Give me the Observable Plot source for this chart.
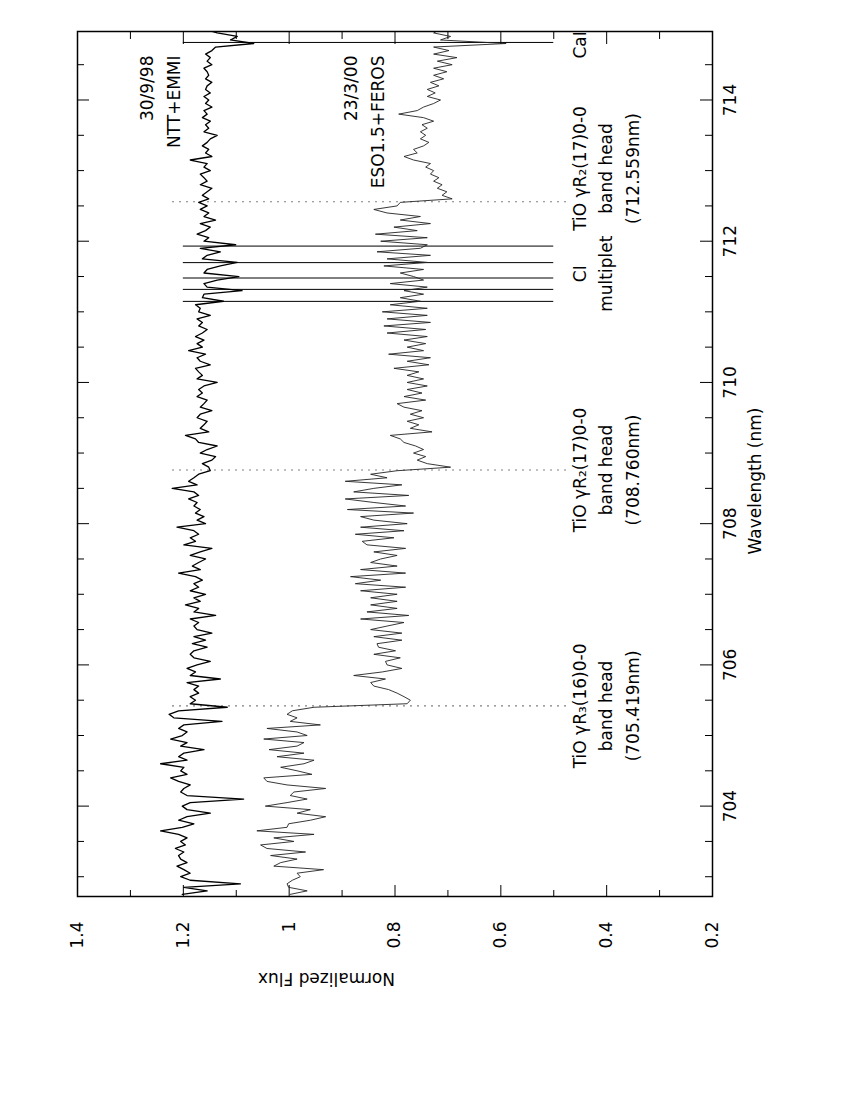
<!DOCTYPE html>
<html><head><meta charset="utf-8">
<script src="https://cdn.jsdelivr.net/npm/d3@7"></script>
<script src="https://cdn.jsdelivr.net/npm/@observablehq/plot@0.6"></script>
<style>
html,body{margin:0;padding:0;background:#fff;width:850px;height:1100px;overflow:hidden;}
#wrap{position:absolute;left:0;top:1100px;width:1100px;height:850px;transform-origin:0 0;transform:rotate(-90deg);}
#wrap svg{display:block;}
</style></head><body><div id="wrap"></div>
<script>
// Wavelength grid of the sampled spectra (nm)
const lambdaStart = 702.75;
const lambdaStep = 0.05;

// 30/9/98 NTT+EMMI spectrum (normalized flux)
const fluxNTT = [
1.202,1.155,1.199,1.092,1.187,1.205,1.187,1.199,1.212,1.193,
1.205,1.209,1.199,1.215,1.196,1.205,1.193,1.209,1.243,1.202,
1.180,1.209,1.193,1.149,1.193,1.202,1.187,1.086,1.193,1.205,
1.199,1.187,1.209,1.224,1.193,1.205,1.199,1.243,1.193,1.209,
1.199,1.161,1.205,1.193,1.224,1.202,1.193,1.209,1.199,1.127,
1.218,1.227,1.209,1.117,1.187,1.177,1.187,1.171,1.180,1.171,
1.193,1.130,1.187,1.177,1.193,1.174,1.149,1.180,1.187,1.180,
1.155,1.183,1.158,1.180,1.146,1.174,1.180,1.171,1.187,1.139,
1.180,1.171,1.196,1.168,1.180,1.158,1.187,1.171,1.180,1.164,
1.177,1.209,1.168,1.183,1.171,1.158,1.187,1.168,1.146,1.199,
1.177,1.187,1.171,1.180,1.212,1.158,1.174,1.161,1.177,1.168,
1.180,1.174,1.190,1.171,1.180,1.221,1.174,1.190,1.180,1.171,
1.149,1.152,1.164,1.146,1.139,1.168,1.155,1.136,1.171,1.177,
1.196,1.152,1.168,1.161,1.155,1.174,1.168,1.146,1.168,1.161,
1.155,1.174,1.164,1.171,1.161,1.136,1.174,1.164,1.171,1.177,
1.149,1.168,1.174,1.158,1.190,1.164,1.174,1.161,1.177,1.164,
1.155,1.171,1.164,1.174,1.149,1.171,1.168,1.177,1.124,1.164,
1.161,1.089,1.155,1.161,1.136,1.095,1.161,1.155,1.130,1.098,
1.164,1.155,1.130,1.168,1.101,1.161,1.152,1.174,1.158,1.149,
1.168,1.139,1.161,1.152,1.168,1.155,1.171,1.152,1.164,1.155,
1.146,1.168,1.155,1.161,1.168,1.149,1.161,1.155,1.187,1.146,
1.158,1.152,1.164,1.155,1.149,1.136,1.161,1.152,1.158,1.149,
1.164,1.155,1.161,1.146,1.158,1.152,1.161,1.149,1.158,1.155,
1.146,1.158,1.152,1.155,1.161,1.146,1.155,1.149,1.158,1.146,
1.139,1.067,1.111,1.098,1.136,1.158
];

// 23/3/00 ESO1.5+FEROS spectrum (normalized flux)
const fluxFEROS = [
0.998,0.966,1.001,1.004,0.994,0.979,0.985,0.935,1.029,1.016,
0.985,1.035,0.969,1.042,1.054,0.991,1.029,0.953,1.061,1.004,
1.001,0.960,0.931,0.985,0.960,1.045,1.004,0.966,0.998,0.991,
0.931,1.004,1.042,1.048,0.957,0.985,1.016,0.972,0.953,1.023,
0.972,1.038,0.985,0.972,1.048,0.966,0.985,1.042,0.941,0.998,
0.985,1.004,0.994,0.953,0.777,0.771,0.783,0.796,0.812,0.840,
0.846,0.818,0.878,0.824,0.787,0.815,0.818,0.790,0.840,0.799,
0.831,0.834,0.787,0.840,0.787,0.846,0.815,0.783,0.865,0.774,
0.853,0.796,0.846,0.796,0.846,0.796,0.865,0.780,0.875,0.827,
0.884,0.780,0.865,0.796,0.846,0.827,0.796,0.840,0.780,0.853,
0.862,0.802,0.875,0.783,0.865,0.777,0.840,0.865,0.765,0.890,
0.780,0.840,0.894,0.774,0.878,0.840,0.787,0.894,0.815,0.846,
0.796,0.695,0.739,0.758,0.742,0.765,0.746,0.761,0.783,0.790,
0.809,0.730,0.771,0.755,0.777,0.746,0.771,0.749,0.783,0.796,
0.742,0.783,0.749,0.777,0.739,0.777,0.746,0.777,0.755,0.802,
0.736,0.777,0.733,0.812,0.746,0.777,0.742,0.783,0.739,0.815,
0.742,0.821,0.733,0.815,0.739,0.824,0.739,0.809,0.752,0.790,
0.746,0.783,0.739,0.809,0.746,0.765,0.790,0.746,0.821,0.739,
0.815,0.733,0.834,0.752,0.739,0.827,0.739,0.837,0.758,0.802,
0.733,0.790,0.752,0.815,0.840,0.796,0.790,0.692,0.711,0.702,
0.720,0.711,0.727,0.717,0.733,0.727,0.742,0.733,0.765,0.783,
0.758,0.765,0.746,0.736,0.752,0.742,0.752,0.739,0.749,0.727,
0.746,0.793,0.758,0.746,0.727,0.714,0.739,0.724,0.739,0.717,
0.733,0.708,0.727,0.702,0.727,0.692,0.720,0.683,0.727,0.698,
0.727,0.590,0.714,0.695,0.727,0.714
];

// Axes
const waveDomain = [702.72, 714.97];
const fluxDomain = [0.2, 1.4];
const waveMajor = [704, 706, 708, 710, 712, 714];
const waveMinor = [703, 703.5, 704.5, 705, 705.5, 706.5, 707, 707.5, 708.5, 709, 709.5, 710.5, 711, 711.5, 712.5, 713, 713.5, 714.5];
const fluxMajor = [0.2, 0.4, 0.6, 0.8, 1, 1.2, 1.4];
const fluxMinor = [0.3, 0.5, 0.7, 0.9, 1.1, 1.3];
const xTitle = "Wavelength (nm)";
const yTitle = "Normalized Flux";

// Line identifications
const bandHeads = [705.419, 708.760, 712.559];
const atomicLines = [711.148, 711.318, 711.479, 711.697, 711.931, 714.815];
const markerTop = 1.2, markerBottom = 0.5;
const dottedTop = 1.22, dottedBottom = 0.47;

const annotations = [
  {lambda: 705.419, flux: 0.45, text: "TiO γR₃(16)0-0"},
  {lambda: 705.419, flux: 0.40, text: "band head"},
  {lambda: 705.419, flux: 0.35, text: "(705.419nm)"},
  {lambda: 708.760, flux: 0.45, text: "TiO γR₂(17)0-0"},
  {lambda: 708.760, flux: 0.40, text: "band head"},
  {lambda: 708.760, flux: 0.35, text: "(708.760nm)"},
  {lambda: 711.54, flux: 0.45, text: "CI"},
  {lambda: 711.54, flux: 0.40, text: "multiplet"},
  {lambda: 713.03, flux: 0.45, text: "TiO γR₂(17)0-0"},
  {lambda: 713.03, flux: 0.40, text: "band head"},
  {lambda: 713.03, flux: 0.35, text: "(712.559nm)"},
  {lambda: 714.78, flux: 0.45, text: "CaI"}
];
const spectrumLabels = [
  {lambda: 714.63, flux: 1.268, text: "30/9/98"},
  {lambda: 714.63, flux: 1.217, text: "NTT+EMMI"},
  {lambda: 714.63, flux: 0.882, text: "23/3/00"},
  {lambda: 714.63, flux: 0.831, text: "ESO1.5+FEROS"}
];

const toRows = arr => arr.map((f, i) => ({lambda: lambdaStart + i * lambdaStep, flux: f}));
const ntt = toRows(fluxNTT);
const feros = toRows(fluxFEROS);

const W = 1100, H = 850, mL = 203, mR = 32, mT = 77, mB = 138;
const FW = W - mL - mR, FH = H - mT - mB;
const MAJ = 12, MIN = 7;
const font = "DejaVu Sans";

const chart = Plot.plot({
  width: W, height: H,
  marginLeft: mL, marginRight: mR, marginTop: mT, marginBottom: mB,
  x: {domain: waveDomain, axis: null},
  y: {domain: fluxDomain, axis: null},
  style: {background: "#fff", color: "#000", fontFamily: font, fontSize: "17px"},
  marks: [
    // inward ticks on all four sides
    Plot.ruleX(waveMajor, {x: d => d, insetTop: FH - MAJ, stroke: "#000"}),
    Plot.ruleX(waveMinor, {x: d => d, insetTop: FH - MIN, stroke: "#000"}),
    Plot.ruleX(waveMajor, {x: d => d, insetBottom: FH - MAJ, stroke: "#000"}),
    Plot.ruleX(waveMinor, {x: d => d, insetBottom: FH - MIN, stroke: "#000"}),
    Plot.ruleY(fluxMajor, {y: d => d, insetRight: FW - MAJ, stroke: "#000"}),
    Plot.ruleY(fluxMinor, {y: d => d, insetRight: FW - MIN, stroke: "#000"}),
    Plot.ruleY(fluxMajor, {y: d => d, insetLeft: FW - MAJ, stroke: "#000"}),
    Plot.ruleY(fluxMinor, {y: d => d, insetLeft: FW - MIN, stroke: "#000"}),
    // identification lines
    Plot.ruleX(bandHeads, {x: d => d, y1: dottedTop, y2: dottedBottom, stroke: "#555", strokeWidth: 1.2, strokeDasharray: "1.5,5.5"}),
    Plot.ruleX(atomicLines, {x: d => d, y1: markerTop, y2: markerBottom, stroke: "#000", strokeWidth: 1}),
    // spectra
    Plot.line(feros, {x: "lambda", y: "flux", stroke: "#222", strokeWidth: 0.9, clip: true}),
    Plot.line(ntt, {x: "lambda", y: "flux", stroke: "#000", strokeWidth: 1.3, clip: true}),
    // annotations
    Plot.text(annotations, {x: "lambda", y: "flux", text: "text", fontFamily: font, fontSize: 17, fill: "#000"}),
    Plot.text(spectrumLabels, {x: "lambda", y: "flux", text: "text", textAnchor: "end", fontFamily: font, fontSize: 17, fill: "#000"}),
    // tick labels
    Plot.text(waveMajor, {x: d => d, frameAnchor: "bottom", dy: 23, text: d => String(d), fontFamily: font, fontSize: 17, fill: "#000"}),
    Plot.text(fluxMajor, {y: d => d, frameAnchor: "left", dx: -25, textAnchor: "end", text: d => String(d), fontFamily: font, fontSize: 17, fill: "#000"}),
    // axis titles
    Plot.text([xTitle], {frameAnchor: "bottom", dy: 48, dx: -17, text: d => d, fontFamily: font, fontSize: 17, fill: "#000"}),
    Plot.text([yTitle], {frameAnchor: "left", dx: -82, rotate: -90, text: d => d, fontFamily: font, fontSize: 17, fill: "#000"}),
    Plot.frame({stroke: "#000", strokeWidth: 1.5})
  ]
});
document.getElementById("wrap").appendChild(chart);
</script></body></html>
